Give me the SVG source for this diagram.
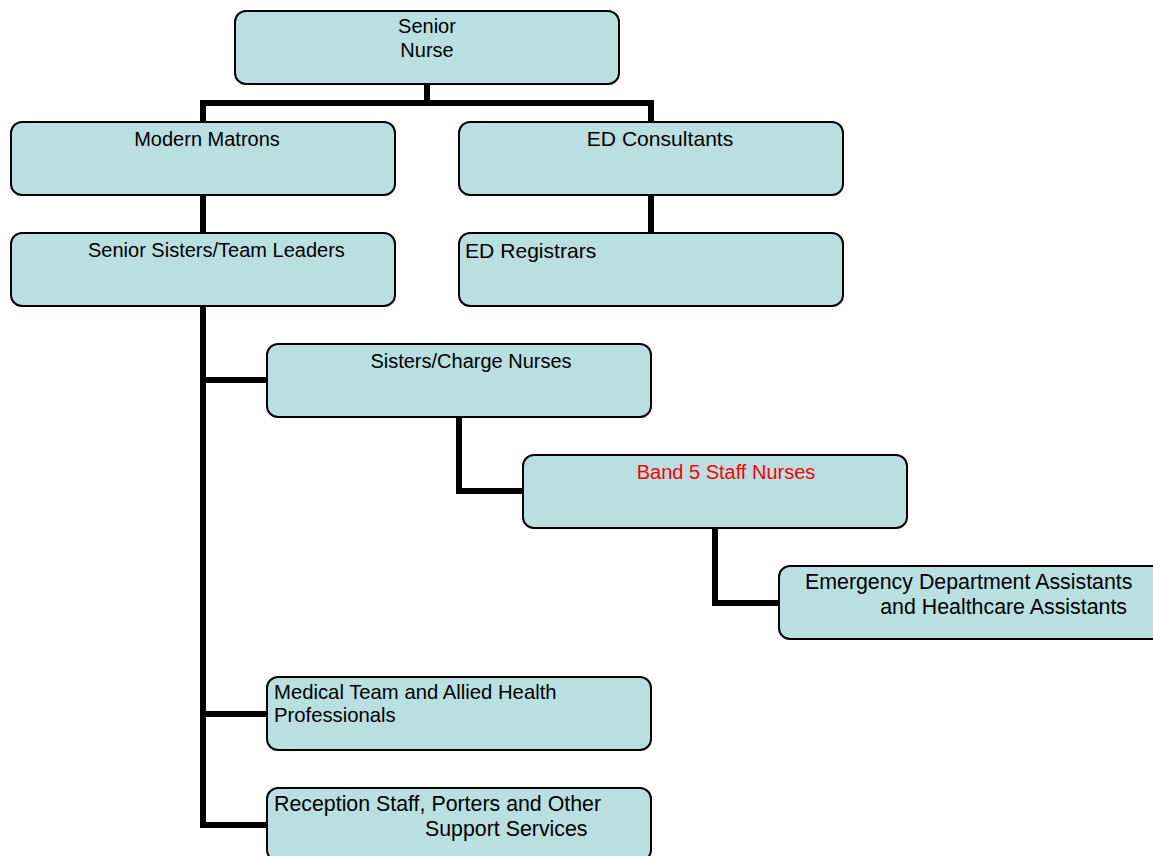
<svg xmlns="http://www.w3.org/2000/svg" width="1153" height="856" viewBox="0 0 1153 856">
<style>
.box{fill:#b9dfe1;stroke:#000;stroke-width:2}
.t{font-family:"Liberation Sans",Arial,sans-serif;font-size:20px;fill:#000}
.m{font-size:21.1px}
.l{font-size:21.35px}
.c{fill:none;stroke:#000;stroke-width:6;stroke-linejoin:miter}
</style>
<rect width="1153" height="856" fill="#fff"/>
<g id="connectors">
<path class="c" d="M427,84V103M203,122V103H651V122"/>
<path class="c" d="M203,195V233M651,195V233"/>
<path class="c" d="M203,306V825H267M203,380H267M203,714H267"/>
<path class="c" d="M459,417V491H523"/>
<path class="c" d="M715,528V603H779"/>
</g>
<g id="senior-nurse"><rect class="box" x="235" y="11" width="384" height="73" rx="11"/><text class="t" x="427" y="33" text-anchor="middle">Senior</text><text class="t" x="427" y="57" text-anchor="middle">Nurse</text></g>
<g id="modern-matrons"><rect class="box" x="11" y="122" width="384" height="73" rx="11"/><text class="t" x="207" y="146" text-anchor="middle">Modern Matrons</text></g>
<g id="ed-consultants"><rect class="box" x="459" y="122" width="384" height="73" rx="11"/><text class="t m" x="660" y="146" text-anchor="middle">ED Consultants</text></g>
<g id="senior-sisters"><rect class="box" x="11" y="233" width="384" height="73" rx="11"/><text class="t" x="88" y="257">Senior Sisters/Team Leaders</text></g>
<g id="ed-registrars"><rect class="box" x="459" y="233" width="384" height="73" rx="11"/><text class="t m" x="465" y="258">ED Registrars</text></g>
<g id="sisters-charge"><rect class="box" x="267" y="344" width="384" height="73" rx="11"/><text class="t" x="471" y="368" text-anchor="middle">Sisters/Charge Nurses</text></g>
<g id="band5"><rect class="box" x="523" y="455" width="384" height="73" rx="11"/><text class="t" x="726" y="479" text-anchor="middle" style="fill:#ff0000">Band 5 Staff Nurses</text></g>
<g id="assistants"><rect class="box" x="779" y="566" width="384" height="73" rx="11"/><text class="t l" x="805" y="589">Emergency Department Assistants</text><text class="t l" x="1127" y="614" text-anchor="end">and Healthcare Assistants</text></g>
<g id="medical-team"><rect class="box" x="267" y="677" width="384" height="73" rx="11"/><text class="t" x="274" y="699" style="font-size:20.3px">Medical Team and Allied Health</text><text class="t" x="274" y="722" style="font-size:20.3px">Professionals</text></g>
<g id="reception"><rect class="box" x="267" y="788" width="384" height="73" rx="11"/><text class="t l" x="274" y="811">Reception Staff, Porters and Other</text><text class="t l" x="425" y="836">Support Services</text></g>
</svg>
